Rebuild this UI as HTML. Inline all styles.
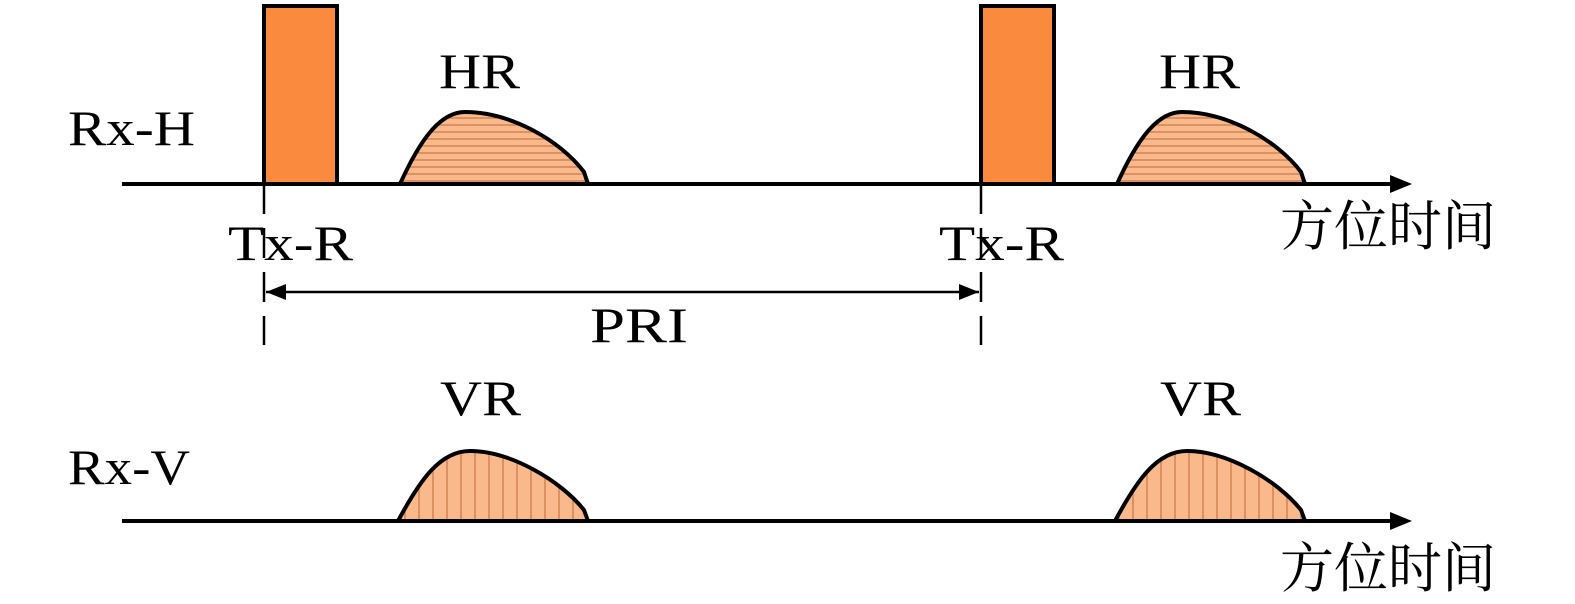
<!DOCTYPE html>
<html><head><meta charset="utf-8"><style>body{margin:0;background:#fff}svg{display:block}</style></head>
<body>
<svg width="1575" height="604" viewBox="0 0 1575 604" xmlns="http://www.w3.org/2000/svg">
<defs>
<pattern id="hl" width="8" height="7" patternUnits="userSpaceOnUse"><rect width="8" height="7" fill="#f9b98a"/><line x1="0" y1="6" x2="8" y2="6" stroke="#c9764a" stroke-width="1.2"/></pattern>
<pattern id="vl" width="14" height="8" patternUnits="userSpaceOnUse"><rect width="14" height="8" fill="#f9b98a"/><line x1="13" y1="0" x2="13" y2="8" stroke="#c9764a" stroke-width="1.2"/></pattern>
</defs>
<g font-family="Liberation Serif, serif" font-size="50" fill="#000" lengthAdjust="spacingAndGlyphs">
<text x="68" y="145" textLength="127" lengthAdjust="spacingAndGlyphs">Rx-H</text>
<text x="68" y="484" textLength="122" lengthAdjust="spacingAndGlyphs">Rx-V</text>
<text x="439" y="88" textLength="81" lengthAdjust="spacingAndGlyphs">HR</text>
<text x="1159" y="88" textLength="81" lengthAdjust="spacingAndGlyphs">HR</text>
<text x="440" y="415" textLength="81" lengthAdjust="spacingAndGlyphs">VR</text>
<text x="1160" y="415" textLength="81" lengthAdjust="spacingAndGlyphs">VR</text>
<text x="228" y="260" textLength="125" lengthAdjust="spacingAndGlyphs">Tx-R</text>
<text x="939" y="260" textLength="125" lengthAdjust="spacingAndGlyphs">Tx-R</text>
<text x="590" y="342" textLength="98" lengthAdjust="spacingAndGlyphs">PRI</text>
</g>
<g font-family="Liberation Serif, 'Noto Serif CJK SC', serif" font-size="54">
<text x="1280" y="245" textLength="216" lengthAdjust="spacingAndGlyphs">方位时间</text>
<text x="1280" y="587" textLength="216" lengthAdjust="spacingAndGlyphs">方位时间</text>
</g>
<g stroke="#000" stroke-width="4" fill="none">
<rect x="264" y="6" width="73" height="178" fill="#f98a3e"/>
<rect x="981" y="6" width="73" height="178" fill="#f98a3e"/>
<path d="M400,184 C420,140 440,112 465,112 C510,112 560,140 584,172 L588,184 Z" fill="url(#hl)"/>
<path d="M1117,184 C1137,140 1157,112 1182,112 C1227,112 1277,140 1301,172 L1305,184 Z" fill="url(#hl)"/>
<path d="M398,521 C420,480 440,451 470,451 C510,451 560,480 584,510 L588,521 Z" fill="url(#vl)"/>
<path d="M1115,521 C1137,480 1157,451 1187,451 C1227,451 1277,480 1301,510 L1305,521 Z" fill="url(#vl)"/>
<line x1="122" y1="184" x2="1395" y2="184"/>
<line x1="122" y1="521" x2="1395" y2="521"/>
</g>
<polygon points="1390,175 1412,184 1390,193" fill="#000"/>
<polygon points="1390,512 1412,521 1390,530" fill="#000"/>
<g stroke="#000" stroke-width="2.5">
<line x1="264" y1="184" x2="264" y2="345" stroke-dasharray="30,14"/>
<line x1="981" y1="184" x2="981" y2="345" stroke-dasharray="30,14"/>
<line x1="266" y1="292" x2="979" y2="292"/>
</g>
<polygon points="266,292 286,284 286,300" fill="#000"/>
<polygon points="979,292 959,284 959,300" fill="#000"/>
</svg>
</body></html>
